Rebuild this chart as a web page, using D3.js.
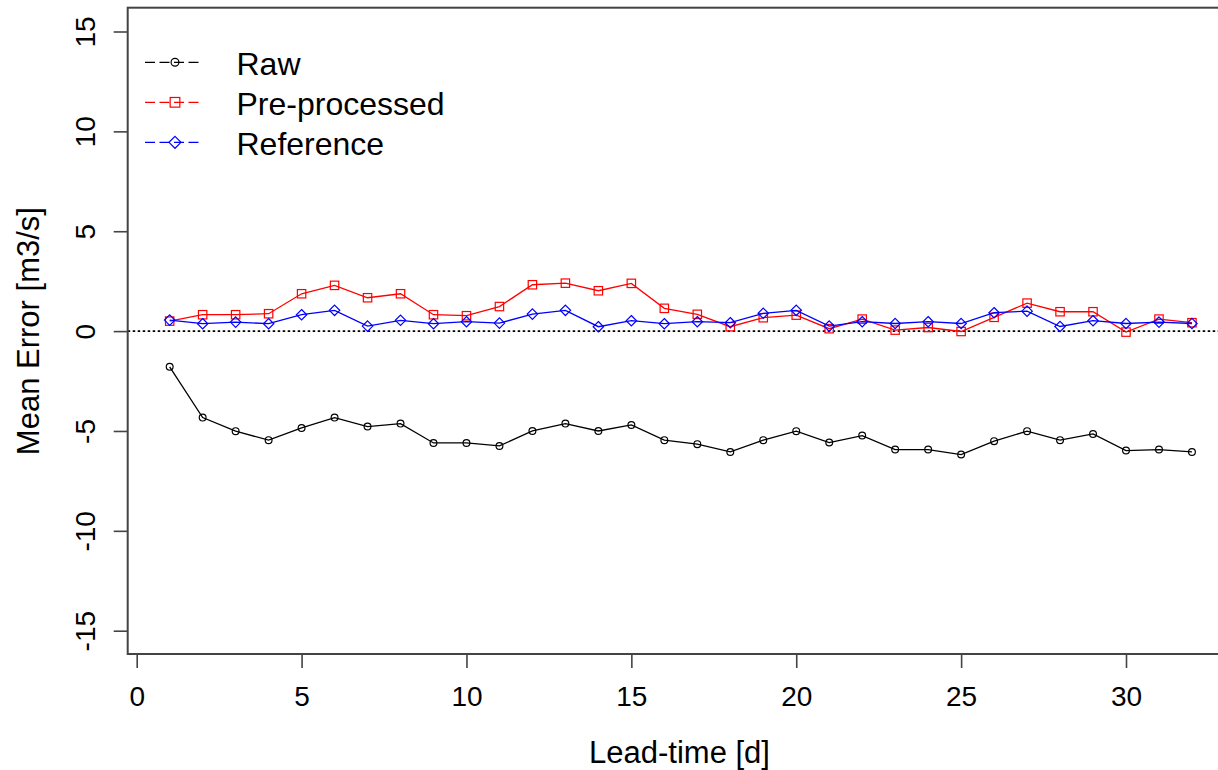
<!DOCTYPE html>
<html>
<head>
<meta charset="utf-8">
<script src="https://cdn.jsdelivr.net/npm/d3@7"></script>
<style>
  html, body { margin: 0; padding: 0; background: #fff; overflow: hidden; }
  svg { display: block; }
  svg text { font-family: "Liberation Sans", Arial, sans-serif; fill: #000; }
</style>
</head>
<body>
<div id="chart"></div>
<script>
var leadTime = d3.range(1, 33);

var raw = [-1.79, -4.33, -5.01, -5.46, -4.85, -4.33, -4.78, -4.63, -5.6, -5.6, -5.75,
  -5.0, -4.63, -5.0, -4.7, -5.46, -5.66, -6.05, -5.46, -5.01, -5.58,
  -5.23, -5.93, -5.93, -6.18, -5.51, -5.01, -5.46, -5.15, -5.98, -5.93, -6.05];

var preProcessed = [0.5, 0.82, 0.82, 0.87, 1.87, 2.29, 1.67, 1.87, 0.82, 0.77, 1.23,
  2.32, 2.4, 2.02, 2.39, 1.14, 0.84, 0.22, 0.67, 0.8, 0.12,
  0.6, 0.05, 0.18, -0.02, 0.69, 1.4, 0.97, 0.97, -0.05, 0.6, 0.42];

var reference = [0.55, 0.37, 0.45, 0.37, 0.82, 1.04, 0.25, 0.54, 0.37, 0.47, 0.4,
  0.85, 1.04, 0.22, 0.52, 0.37, 0.47, 0.42, 0.89, 1.04, 0.25,
  0.47, 0.38, 0.47, 0.38, 0.92, 1.0, 0.23, 0.52, 0.38, 0.45, 0.38];

var xTicks = [0, 5, 10, 15, 20, 25, 30];
var yTicks = [-15, -10, -5, 0, 5, 10, 15];

var series = [
  { name: "Raw", values: raw, color: "#000000", shape: "circle" },
  { name: "Pre-processed", values: preProcessed, color: "#ff0000", shape: "square" },
  { name: "Reference", values: reference, color: "#0000ff", shape: "diamond" }
];

var width = 1218, height = 770;
// the plot box runs past the right edge of the canvas
var box = { left: 127.7, right: 1300, top: 7.7, bottom: 654 };

var svg = d3.select("#chart").append("svg")
  .attr("width", width)
  .attr("height", height);

var x = d3.scaleLinear().domain([0, 30]).range([136.7, 1126]);
var y = d3.scaleLinear().domain([-15, 15]).range([630.7, 31.5]);

// plain hyphen for negatives, like R
var fmt = function (d) { return String(d); };

// zero line
svg.append("line")
  .attr("x1", box.left).attr("x2", box.right)
  .attr("y1", y(0)).attr("y2", y(0))
  .attr("stroke", "#000").attr("stroke-width", 1.8)
  .attr("stroke-dasharray", "2.5,2.5");

// axes
var xAxis = svg.append("g")
  .attr("transform", "translate(0," + box.bottom + ")")
  .call(d3.axisBottom(x).tickValues(xTicks).tickSize(14).tickPadding(18).tickFormat(fmt));
xAxis.select(".domain").remove();
xAxis.selectAll("line").attr("stroke", "#444").attr("stroke-width", 1.6);
xAxis.selectAll("text").attr("font-size", "28px").attr("fill", "#000");

var yAxis = svg.append("g")
  .attr("transform", "translate(" + box.left + ",0)")
  .call(d3.axisLeft(y).tickValues(yTicks).tickSize(14).tickFormat(fmt));
yAxis.select(".domain").remove();
yAxis.selectAll("line").attr("stroke", "#444").attr("stroke-width", 1.6);
yAxis.selectAll("text")
  .attr("x", null).attr("dy", null)
  .attr("text-anchor", "middle")
  .attr("transform", "translate(-32.7,0) rotate(-90)")
  .attr("font-size", "28px").attr("fill", "#000");

// box
svg.append("rect")
  .attr("x", box.left).attr("y", box.top)
  .attr("width", box.right - box.left).attr("height", box.bottom - box.top)
  .attr("fill", "none").attr("stroke", "#444").attr("stroke-width", 2);

// axis titles
svg.append("text")
  .attr("x", 679.5).attr("y", 763)
  .attr("text-anchor", "middle").attr("font-size", "31px")
  .text("Lead-time [d]");

svg.append("text")
  .attr("transform", "translate(38.5," + y(0) + ") rotate(-90)")
  .attr("text-anchor", "middle").attr("font-size", "31px")
  .text("Mean Error [m3/s]");

function drawMarker(g, shape, color, cx, cy, scale) {
  var s = scale || 1;
  if (shape === "circle") {
    g.append("circle").attr("cx", cx).attr("cy", cy).attr("r", 3.4 * s)
      .attr("fill", "none").attr("stroke", color).attr("stroke-width", 1.2);
  } else if (shape === "square") {
    var h = 4.2 * s;
    g.append("rect").attr("x", cx - h).attr("y", cy - h).attr("width", 2 * h).attr("height", 2 * h)
      .attr("fill", "none").attr("stroke", color).attr("stroke-width", 1.2);
  } else {
    var w = 5.2 * s, v = 5.2 * s;
    g.append("path")
      .attr("d", "M" + cx + "," + (cy - v) + "L" + (cx + w) + "," + cy + "L" + cx + "," + (cy + v) + "L" + (cx - w) + "," + cy + "Z")
      .attr("fill", "none").attr("stroke", color).attr("stroke-width", 1.2);
  }
}

// series
var line = d3.line()
  .x(function (d) { return x(d[0]); })
  .y(function (d) { return y(d[1]); });

series.forEach(function (s) {
  var pts = leadTime.map(function (t, i) { return [t, s.values[i]]; });
  var g = svg.append("g").attr("class", "series");
  g.append("path")
    .attr("d", line(pts))
    .attr("fill", "none").attr("stroke", s.color).attr("stroke-width", 1.3);
  pts.forEach(function (p) {
    drawMarker(g, s.shape, s.color, x(p[0]), y(p[1]));
  });
});

// legend
var legend = svg.append("g");
series.forEach(function (s, i) {
  var ly = 62.3 + i * 40;
  legend.append("line")
    .attr("x1", 145).attr("x2", 203)
    .attr("y1", ly).attr("y2", ly)
    .attr("stroke", s.color).attr("stroke-width", 1.3)
    .attr("stroke-dasharray", "10,4.5");
  drawMarker(legend, s.shape, s.color, 175, ly, 1.15);
  legend.append("text")
    .attr("x", 236.5).attr("y", ly + 12.7)
    .attr("font-size", "32px")
    .text(s.name);
});
</script>
</body>
</html>
